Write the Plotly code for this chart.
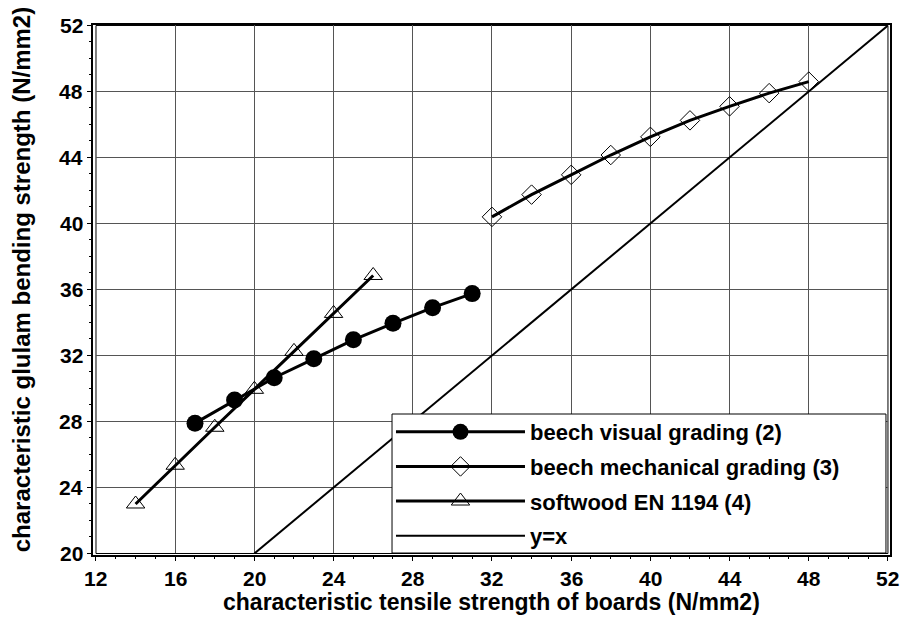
import plotly.graph_objects as go

# data
visual_x = [17, 19, 21, 23, 25, 27, 29, 31]
visual_y = [27.9, 29.3, 30.65, 31.8, 32.95, 33.95, 34.9, 35.75]
mech_x = [32, 34, 36, 38, 40, 42, 44, 46, 48]
mech_y = [40.4, 41.75, 42.95, 44.15, 45.25, 46.25, 47.1, 47.9, 48.6]
soft_x = [14, 16, 18, 20, 22, 24, 26]
soft_y = [23.0, 25.35, 27.65, 29.95, 32.25, 34.55, 36.85]
ref_x = [20, 52]
ref_y = [20, 52]

x_ticks = [12, 16, 20, 24, 28, 32, 36, 40, 44, 48, 52]
y_ticks = [20, 24, 28, 32, 36, 40, 44, 48, 52]

FONT = "Liberation Sans"
TICK_FONT = dict(family=FONT, size=21, color="black", weight="bold")

fig = go.Figure()
fig.add_trace(go.Scatter(x=visual_x, y=visual_y, mode="lines+markers",
                         name="beech visual grading (2)", legendgroup="a",
                         line=dict(color="black", width=3),
                         marker=dict(symbol="circle", size=17, color="black")))
fig.add_trace(go.Scatter(x=mech_x, y=mech_y, mode="lines+markers",
                         name="beech mechanical grading (3)", legendgroup="b",
                         line=dict(color="black", width=3),
                         marker=dict(symbol="diamond-open", size=15, color="black",
                                     line=dict(width=1))))
fig.add_trace(go.Scatter(x=soft_x, y=soft_y, mode="lines+markers",
                         name="softwood EN 1194 (4)", legendgroup="c",
                         line=dict(color="black", width=3),
                         marker=dict(symbol="triangle-up-open", size=16, color="black",
                                     line=dict(width=1))))
fig.add_trace(go.Scatter(x=ref_x, y=ref_y, mode="lines", name="y=x", legendgroup="d",
                         line=dict(color="black", width=2)))

common = dict(
    showgrid=True, gridcolor="#555555", gridwidth=1,
    zeroline=False, showline=True, linecolor="black", linewidth=2,
    ticks="outside", ticklen=4, tickwidth=1, tickcolor="black",
    anchor="free", position=0, automargin=False, showticklabels=False,
    minor=dict(dtick=1, ticks="outside", ticklen=2, tickcolor="black", showgrid=False),
)

# tick labels drawn as bold annotations positioned through the axes
tick_annotations = (
    [dict(text=str(v), xref="x", yref="paper", x=v, y=-0.0414,
          showarrow=False, xanchor="center", yanchor="middle", font=TICK_FONT)
     for v in x_ticks]
    + [dict(text=str(v), xref="paper", yref="y", x=-0.0085, y=v,
            showarrow=False, xanchor="right", yanchor="middle", font=TICK_FONT)
       for v in y_ticks]
)

fig.update_layout(
    width=902, height=621,
    margin=dict(l=92, r=11, t=24, b=65),
    paper_bgcolor="white", plot_bgcolor="white",
    font=dict(family=FONT, color="black"),
    xaxis=dict(common, range=[12, 52], domain=[0.005, 0.9962], tickmode="array",
               tickvals=x_ticks),
    yaxis=dict(common, range=[20, 52], domain=[0.0047, 0.9972], tickmode="array",
               tickvals=y_ticks),
    legend=dict(x=0.3742, y=0.2725, xanchor="left", yanchor="top",
                bgcolor="rgba(0,0,0,0)", borderwidth=0,
                font=dict(family=FONT, size=22, color="black", weight="bold"),
                itemwidth=129, tracegroupgap=3,
                traceorder="grouped"),
    shapes=[
        dict(type="rect", xref="paper", yref="paper", x0=0, x1=1, y0=0, y1=1,
             line=dict(color="black", width=2), layer="above"),
        dict(type="rect", xref="x domain", yref="y domain", x0=0, x1=1, y0=0, y1=1,
             line=dict(color="black", width=1), layer="below"),
        # legend box
        dict(type="rect", xref="paper", yref="paper", x0=0.3755, x1=0.9937,
             y0=0.0056, y1=0.2669, fillcolor="white",
             line=dict(color="black", width=1), layer="above"),
    ],
    annotations=[
        dict(text="characteristic glulam bending strength (N/mm2)",
             xref="paper", yref="paper", x=-0.089, y=0.52, textangle=-90,
             showarrow=False, xanchor="center", yanchor="middle",
             font=dict(family=FONT, size=24, color="black", weight="bold")),
        dict(text="characteristic tensile strength of boards (N/mm2)",
             xref="paper", yref="paper", x=0.5, y=-0.0865,
             showarrow=False, xanchor="center", yanchor="middle",
             font=dict(family=FONT, size=23, color="black", weight="bold")),
    ] + tick_annotations,
)

fig.write_html("out.html")
